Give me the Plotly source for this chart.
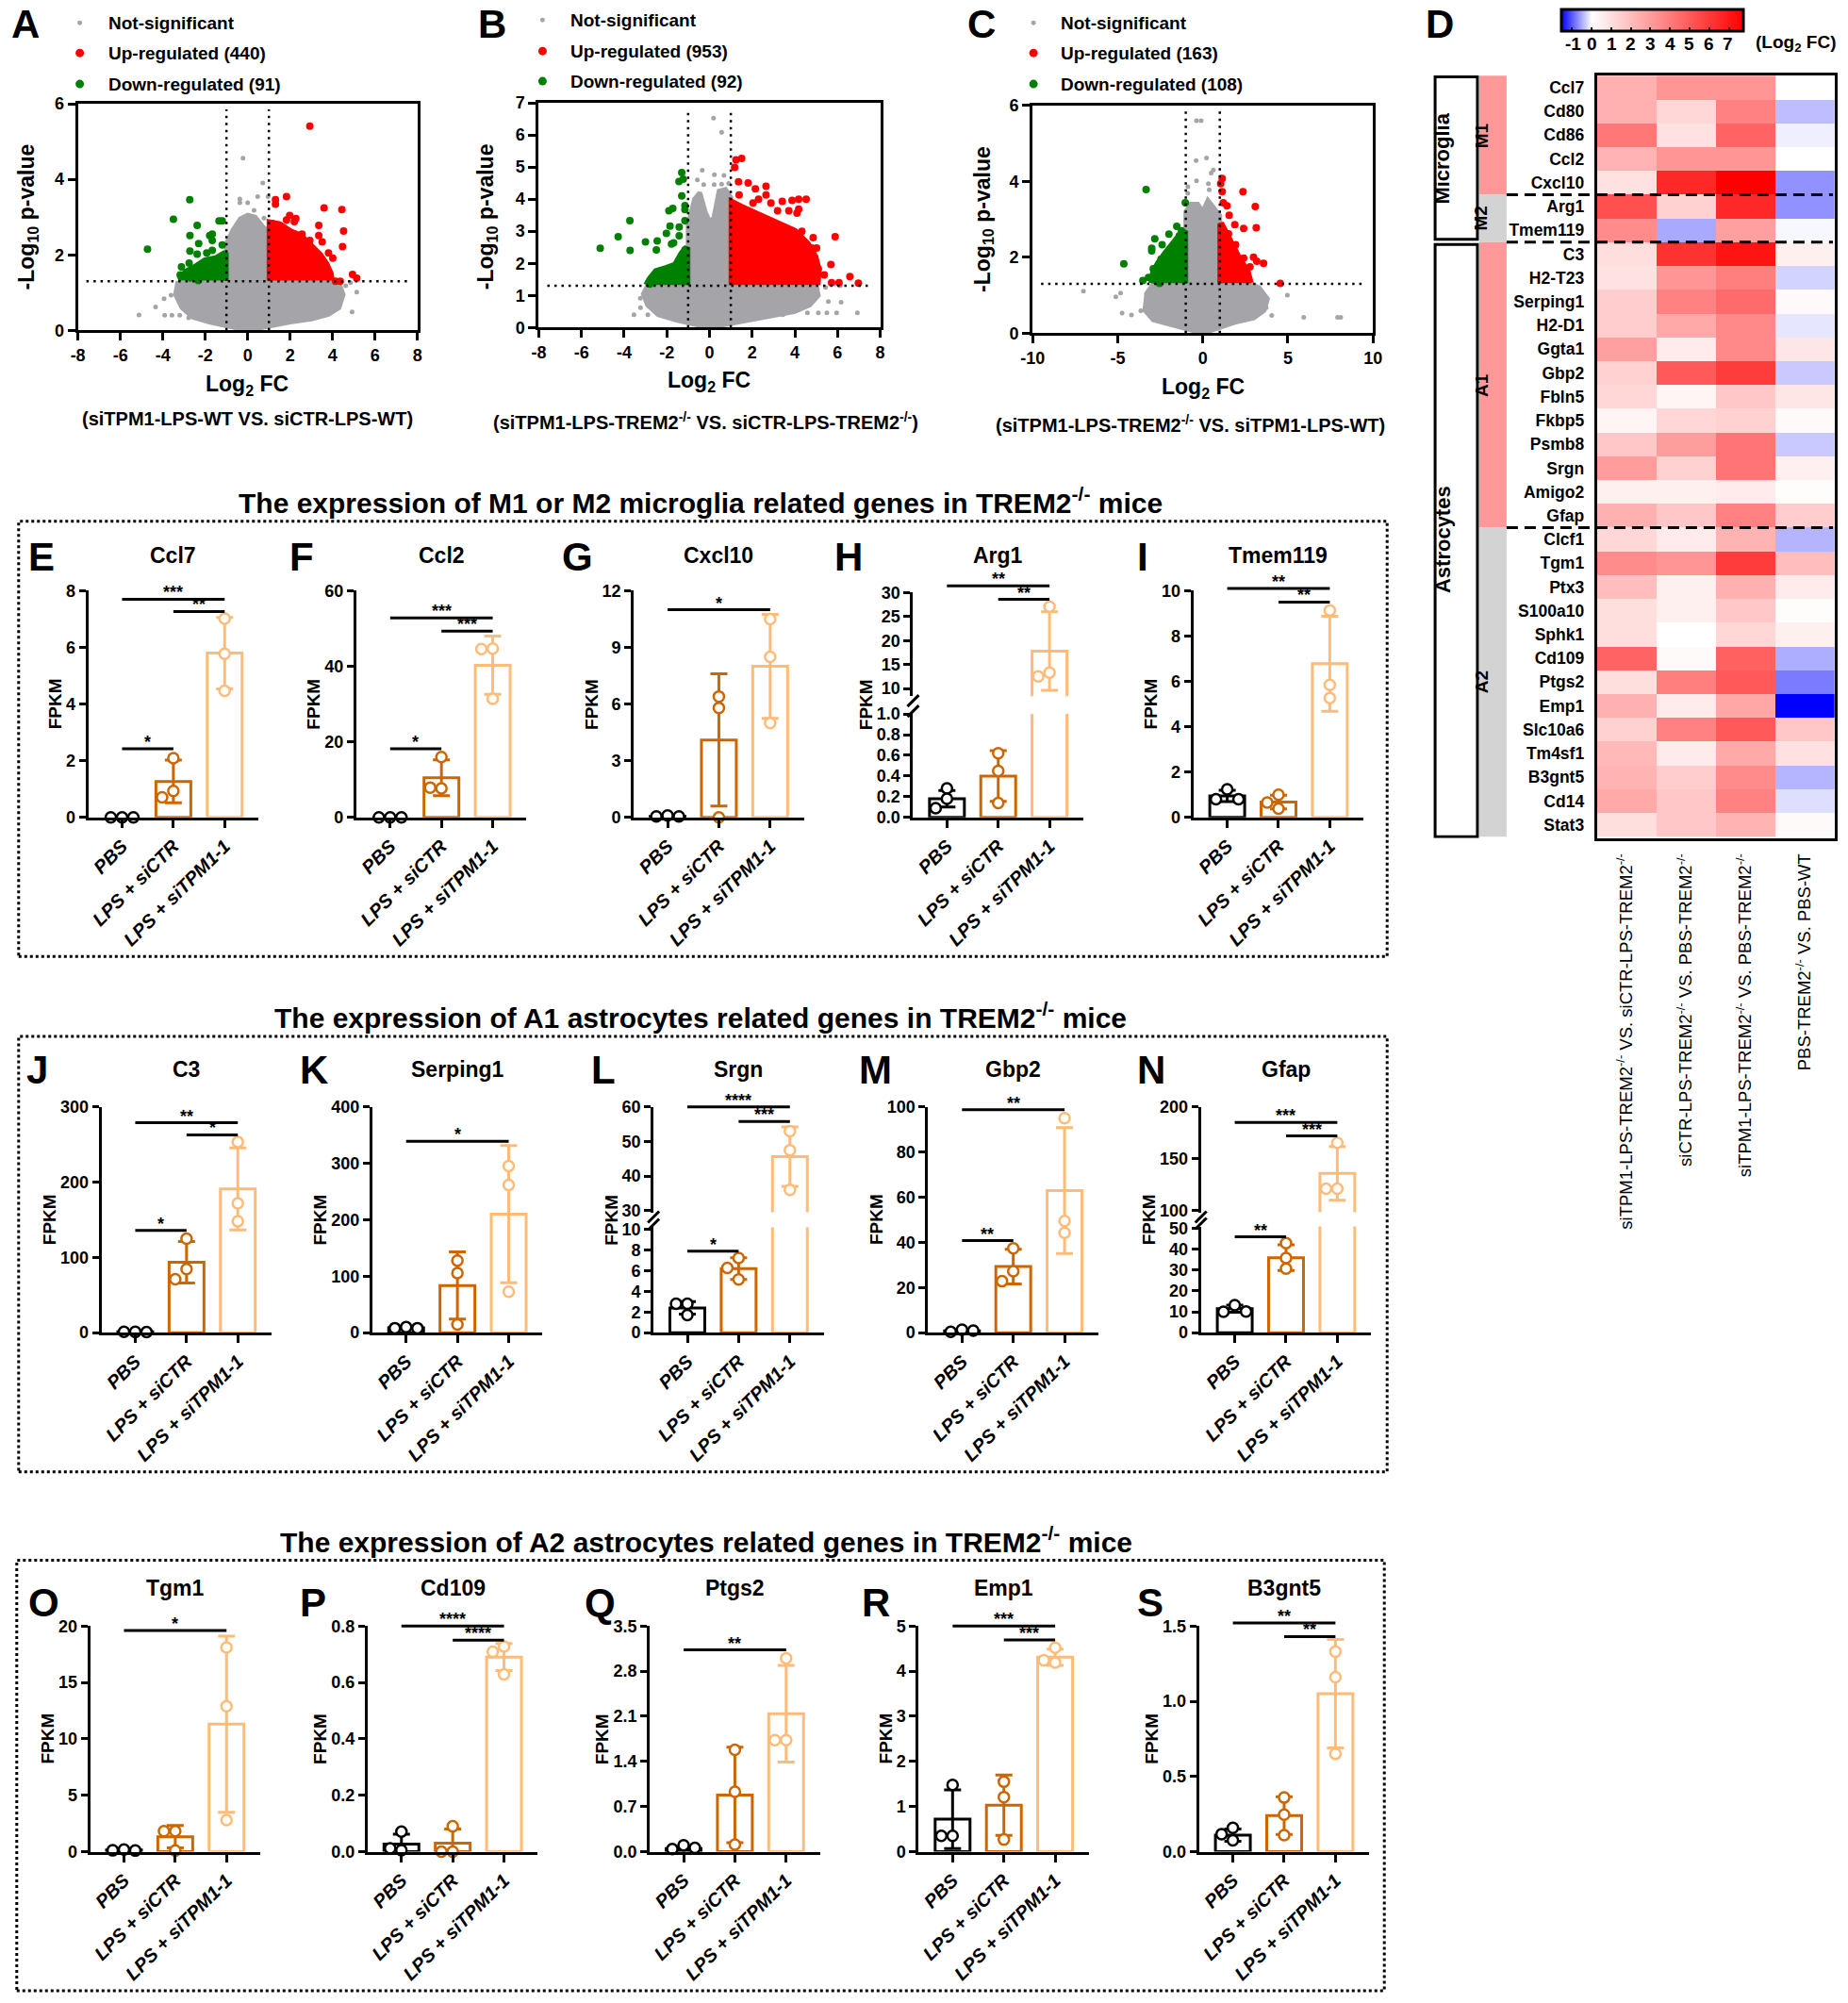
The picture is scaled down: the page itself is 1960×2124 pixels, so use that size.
import plotly.graph_objects as go

W, H = 1960, 2124
# The captured page comes out slightly inset/scaled; positions are laid out in
# reference pixels and mapped through this small correction.
AX, KX = 10.2, 0.9907
AY, KY = 7.7, 0.9935
FONT = "Liberation Sans, Arial, Helvetica, sans-serif"

# ======================= DATA =======================
FC_CUT = 1.0
P_CUT = 1.3

# ---- Volcano A ----
A_ns_area = [(0, 0), (1, 0.12), (2, 0.22), (3, 0.3), (3.8, 0.42), (4.3, 0.6), (4.5, 0.95), (4.3, 1.25), (1, 1.3),
             (1, 2.6), (0.7, 2.75), (0.35, 3.0), (0, 3.05), (-0.35, 2.95), (-0.7, 2.65), (-1, 2.3), (-1, 1.3),
             (-3.3, 1.25), (-3.4, 0.95), (-3.1, 0.6), (-2.6, 0.35), (-1.8, 0.22), (-0.9, 0.12), (0, 0)]
A_ns_pts = [(-5.12, 0.41), (-4.34, 0.62), (-3.94, 0.84), (-3.91, 0.40), (-3.57, 0.40), (-3.2, 0.40), (-3.61, 0.93),
            (-2.78, 0.33), (4.92, 0.49), (5.14, 1.01), (4.85, 1.26), (4.33, 0.88), (4.62, 1.18), (3.89, 0.68),
            (-0.22, 4.56), (0.71, 3.9), (0.47, 3.54), (-0.37, 3.48), (-0.37, 3.38), (0.0, 3.38), (0.96, 3.54),
            (0.77, 2.97), (0.3, 3.18), (-0.22, 2.88), (-0.59, 2.59), (-0.9, 2.38)]
A_up_area = [(1.05, 1.32), (1.05, 2.85), (1.5, 2.8), (2.0, 2.62), (2.5, 2.5), (3.0, 2.25), (3.4, 2.0), (3.7, 1.75),
             (3.9, 1.5), (3.95, 1.32)]
A_up_pts = [(2.93, 5.41), (1.31, 3.46), (1.31, 3.34), (1.83, 3.54), (1.98, 3.04), (1.83, 2.92), (2.27, 2.96),
            (3.6, 3.24), (4.44, 3.2), (3.35, 2.78), (3.35, 2.51), (4.52, 2.63), (4.47, 2.22), (3.51, 2.34),
            (4.01, 1.91), (3.54, 1.66), (3.69, 1.47), (4.94, 1.48), (5.14, 1.38), (4.36, 1.3), (4.14, 1.3),
            (2.93, 2.38), (2.56, 2.55), (3.81, 2.05), (3.3, 1.85), (2.2, 2.88), (1.38, 2.71), (1.16, 2.83)]
A_dn_area = [(-1.05, 1.32), (-1.05, 2.05), (-1.5, 1.9), (-2.0, 1.85), (-2.4, 1.7), (-2.9, 1.55), (-3.15, 1.4),
             (-3.1, 1.32)]
A_dn_pts = [(-4.72, 2.15), (-3.5, 2.94), (-2.73, 3.46), (-2.38, 2.78), (-2.72, 2.51), (-2.31, 2.3), (-2.72, 2.1),
            (-2.38, 2.02), (-2.76, 1.78), (-1.79, 2.51), (-1.67, 2.55), (-1.67, 2.38), (-1.35, 2.9), (-1.2, 2.9),
            (-1.2, 2.26), (-1.67, 2.12), (-3.12, 1.68), (-3.18, 1.47), (-2.7, 1.39), (-2.33, 1.32), (-1.93, 2.05)]
A_labels = ["Not-significant", "Up-regulated (440)", "Down-regulated (91)"]
A_comparison = "(siTPM1-LPS-WT VS. siCTR-LPS-WT)"

# ---- Volcano B ----
B_ns_area = [(0, 0), (1, 0.12), (2, 0.25), (3, 0.35), (4, 0.5), (4.7, 0.7), (5.1, 1.0), (5.0, 1.3), (1, 1.3),
             (1, 4.05), (0.75, 4.3), (0.45, 4.25), (0.2, 3.4), (0, 3.3), (-0.2, 3.6), (-0.45, 4.2), (-0.7, 4.0),
             (-1, 3.2), (-1, 1.3), (-2.9, 1.3), (-3.1, 1.05), (-2.9, 0.7), (-2.4, 0.4), (-1.5, 0.22), (-0.7, 0.1),
             (0, 0)]
B_ns_pts = [(0.19, 6.52), (0.57, 6.08), (-0.34, 4.9), (-0.57, 4.6), (0.23, 4.76), (0.68, 4.74), (0.9, 4.49),
            (0.22, 4.45), (0.57, 4.47), (-0.27, 4.45), (-3.24, 0.91), (-3.23, 0.62), (-3.54, 0.4), (-2.89, 0.4),
            (-2.89, 0.72), (5.57, 0.81), (6.17, 0.79), (6.93, 0.46), (5.96, 0.46), (5.5, 0.46), (5.1, 0.46),
            (4.59, 0.46), (4.67, 0.81), (5.05, 1.2), (5.44, 1.25), (6.12, 1.3), (4.28, 1.15), (3.44, 0.4)]
B_up_area = [(1.05, 1.32), (1.05, 3.9), (1.5, 3.75), (2.0, 3.6), (2.6, 3.45), (3.2, 3.25), (4.0, 3.0), (4.6, 2.6),
             (4.95, 2.2), (5.1, 1.8), (5.05, 1.32)]
B_up_pts = [(1.24, 5.22), (1.51, 5.27), (1.18, 4.99), (1.36, 4.54), (1.81, 4.5), (2.15, 4.32), (2.65, 4.4),
            (2.65, 4.13), (2.3, 4.0), (3.41, 3.93), (3.87, 3.96), (4.18, 4.0), (4.53, 4.0), (4.18, 3.69),
            (3.72, 3.64), (4.1, 3.56), (3.19, 3.64), (2.88, 3.88), (2.04, 3.88), (1.39, 4.13), (4.33, 3.0),
            (4.86, 2.8), (4.79, 2.48), (5.02, 2.48), (5.89, 2.83), (5.69, 1.96), (5.38, 1.64), (6.58, 1.59),
            (5.72, 1.4), (6.07, 1.4), (6.98, 1.38), (4.94, 1.53), (5.1, 1.83), (4.71, 2.2), (4.48, 2.6)]
B_dn_area = [(-1.05, 1.32), (-1.05, 2.5), (-1.3, 2.3), (-1.6, 1.95), (-2.0, 1.85), (-2.5, 1.75), (-2.8, 1.5),
             (-2.95, 1.32)]
B_dn_pts = [(-5.12, 2.47), (-4.28, 2.83), (-3.73, 3.33), (-3.72, 2.4), (-3.0, 2.67), (-2.45, 2.7), (-2.49, 2.42),
            (-2.02, 2.93), (-1.9, 3.64), (-1.72, 3.71), (-1.85, 3.16), (-1.78, 2.6), (-1.42, 3.13), (-1.3, 4.83),
            (-1.43, 4.55), (-1.23, 4.62), (-1.3, 4.1), (-1.15, 3.8), (-1.15, 3.67), (-1.15, 3.33), (-1.42, 2.86),
            (-1.68, 2.64), (-1.15, 2.42), (-2.8, 1.35), (-1.6, 1.83)]
B_labels = ["Not-significant", "Up-regulated (953)", "Down-regulated (92)"]
B_comparison = "(siTPM1-LPS-TREM2<sup>-/-</sup> VS. siCTR-LPS-TREM2<sup>-/-</sup>)"

# ---- Volcano C ----
C_ns_area = [(0, 0), (1, 0.15), (2, 0.3), (3, 0.4), (3.6, 0.6), (3.8, 0.9), (3.3, 1.2), (2.8, 1.3), (1, 1.3),
             (1, 3.1), (0.6, 3.35), (0.3, 3.5), (0, 3.2), (-0.3, 3.4), (-0.7, 3.4), (-1, 3.2), (-1, 1.3),
             (-2.9, 1.3), (-3.3, 1.05), (-3.4, 0.6), (-2.9, 0.35), (-2, 0.25), (-1, 0.12), (0, 0)]
C_ns_pts = [(-0.37, 5.6), (-0.1, 5.6), (0.22, 4.62), (-0.39, 4.55), (0.49, 4.22), (0.62, 4.3), (-0.37, 4.02),
            (-0.88, 3.86), (-0.88, 3.69), (0.33, 3.94), (0.38, 3.78), (-7.01, 1.11), (-5.11, 0.96), (-4.83, 1.06),
            (-4.74, 0.53), (-4.19, 0.48), (-3.64, 0.59), (4.97, 1.0), (5.93, 0.42), (7.92, 0.42), (8.1, 0.42),
            (4.05, 0.47), (3.63, 0.92), (3.72, 0.67), (2.98, 1.17), (3.44, 1.05)]
C_up_area = [(1.05, 1.32), (1.05, 2.9), (1.4, 2.6), (1.8, 2.2), (2.2, 1.9), (2.6, 1.65), (2.8, 1.32)]
C_up_pts = [(1.14, 4.08), (1.05, 3.94), (1.14, 3.73), (2.36, 3.73), (1.2, 3.44), (1.42, 3.36), (1.55, 3.11),
            (3.08, 3.34), (3.14, 2.78), (1.88, 2.86), (2.4, 2.76), (1.93, 2.33), (1.51, 2.62), (2.98, 2.0),
            (3.17, 1.9), (3.57, 1.84), (2.4, 1.98), (2.77, 1.75), (4.55, 1.31), (2.62, 1.53), (2.16, 1.65)]
C_dn_area = [(-1.05, 1.32), (-1.05, 2.7), (-1.4, 2.55), (-1.8, 2.35), (-2.2, 2.1), (-2.6, 1.85), (-2.9, 1.6),
             (-3.0, 1.32)]
C_dn_pts = [(-3.33, 3.79), (-1.03, 3.44), (-4.64, 1.83), (-2.82, 2.49), (-3.0, 2.24), (-3.0, 2.17), (-2.39, 2.33),
            (-2.45, 1.95), (-2.91, 1.7), (-3.19, 1.47), (-3.52, 1.39), (-2.54, 1.31), (-1.99, 2.61), (-1.53, 2.82),
            (-1.38, 2.57), (-1.25, 2.7), (-1.8, 2.03), (-2.36, 1.72)]
C_labels = ["Not-significant", "Up-regulated (163)", "Down-regulated (108)"]
C_comparison = "(siTPM1-LPS-TREM2<sup>-/-</sup> VS. siTPM1-LPS-WT)"

# ---- Heatmap D ----
heat_genes = ["Ccl7", "Cd80", "Cd86", "Ccl2", "Cxcl10", "Arg1", "Tmem119", "C3", "H2-T23", "Serping1", "H2-D1",
              "Ggta1", "Gbp2", "Fbln5", "Fkbp5", "Psmb8", "Srgn", "Amigo2", "Gfap", "Clcf1", "Tgm1", "Ptx3",
              "S100a10", "Sphk1", "Cd109", "Ptgs2", "Emp1", "Slc10a6", "Tm4sf1", "B3gnt5", "Cd14", "Stat3"]
heat_columns = ["siTPM1-LPS-TREM2<sup>-/-</sup> VS. siCTR-LPS-TREM2<sup>-/-</sup>",
                "siCTR-LPS-TREM2<sup>-/-</sup> VS. PBS-TREM2<sup>-/-</sup>",
                "siTPM1-LPS-TREM2<sup>-/-</sup> VS. PBS-TREM2<sup>-/-</sup>",
                "PBS-TREM2<sup>-/-</sup> VS. PBS-WT"]
fc_col1 = [2.4, 2.4, 4.1, 2.3, 0.9, 5.3, 3.5, 1.0, 0.9, 1.5, 1.5, 2.9, 1.4, 1.2, 0.3, 1.7, 3.0, 0.45, 2.4,
           1.2, 3.5, 2.0, 1.0, 1.0, 4.7, 1.0, 2.4, 1.4, 2.1, 2.3, 2.6, 1.0]
fc_col2 = [3.2, 1.2, 0.9, 3.2, 6.5, 1.4, -0.52, 6.2, 3.2, 3.8, 2.6, 0.6, 5.0, 0.3, 1.2, 3.0, 1.4, 0.45, 1.7,
           0.6, 3.2, 0.45, 0.45, 0.0, 0.15, 3.9, 0.6, 3.8, 0.6, 1.5, 1.7, 1.7]
fc_col3 = [3.2, 3.8, 4.7, 3.2, 7.7, 6.5, 2.9, 7.1, 3.9, 4.5, 3.6, 3.6, 5.9, 1.7, 1.4, 4.2, 4.2, 0.6, 3.8,
           2.3, 5.9, 2.4, 1.7, 1.2, 4.8, 5.0, 2.7, 5.0, 2.6, 3.5, 3.8, 2.3]
fc_col4 = [0.0, -0.4, -0.1, 0.0, -0.67, -0.67, -0.05, 0.45, -0.27, 0.15, -0.15, 0.75, -0.33, 0.75, 0.15, -0.33,
           0.45, 0.1, 1.5, -0.45, 2.0, 0.6, 0.1, 0.45, -0.49, -0.8, -1.55, 1.7, 0.9, -0.45, -0.2, 0.15]
cell_types = ["Microglia", "Astrocytes"]
cell_type_sizes = [7, 25]
subtypes = ["M1", "M2", "A1", "A2"]
subtype_sizes = [5, 2, 12, 13]
cbar_ticks = [-1, 0, 1, 2, 3, 4, 5, 6, 7]
FC_MIN, FC_MAX = -1.55, 7.7

# ---- Bar charts ----
GROUPS = ["PBS", "LPS + siCTR", "LPS + siTPM1-1"]

ccl7_mean = [0.0, 1.27, 5.8]
ccl7_sd = [0.0, 0.75, 1.26]
ccl7_pts = [[0.0, 0.0, 0.0], [2.09, 0.93, 0.71], [7.02, 5.78, 4.47]]
ccl7_sig = [(0, 2, 7.7, "***"), (1, 2, 7.27, "**"), (0, 1, 2.42, "*")]

ccl2_mean = [0.0, 10.5, 40.3]
ccl2_sd = [0.0, 4.75, 7.7]
ccl2_pts = [[0.0, 0.0, 0.0], [16.0, 7.7, 7.9], [44.7, 44.6, 31.4]]
ccl2_sig = [(0, 2, 52.8, "***"), (1, 2, 49.3, "***"), (0, 1, 18.2, "*")]

cxcl10_mean = [0.05, 4.1, 8.0]
cxcl10_sd = [0.02, 3.5, 2.75]
cxcl10_pts = [[0.1, 0.05, 0.05], [6.4, 5.8, 0.0], [10.5, 8.5, 5.0]]
cxcl10_sig = [(0, 2, 11.0, "*")]

arg1_mean = [0.18, 0.40, 17.8]
arg1_sd = [0.08, 0.245, 8.2]
arg1_pts = [[0.28, 0.18, 0.09], [0.62, 0.45, 0.14], [27.1, 13.3, 12.5]]
arg1_sig = [(0, 2, 31.4, "**"), (1, 2, 28.6, "**")]

tmem119_mean = [0.95, 0.68, 6.78]
tmem119_sd = [0.25, 0.3, 2.1]
tmem119_pts = [[1.24, 0.8, 0.8], [1.0, 0.39, 0.66], [9.14, 5.85, 5.27]]
tmem119_sig = [(0, 2, 10.1, "**"), (1, 2, 9.5, "**")]

c3_mean = [1.0, 93.5, 191.0]
c3_sd = [0.2, 27.6, 54.5]
c3_pts = [[1.0, 1.2, 0.9], [125.0, 84.6, 71.0], [253.6, 172.0, 148.0]]
c3_sig = [(0, 2, 279, "**"), (1, 2, 263, "*"), (0, 1, 136, "*")]

serping1_mean = [8.5, 83.5, 210.0]
serping1_sd = [1.5, 59.5, 121.5]
serping1_pts = [[10.0, 8.0, 8.0], [127.8, 105.7, 14.4], [295.4, 261.7, 72.5]]
serping1_sig = [(0, 2, 339, "*")]

srgn_mean = [2.4, 6.2, 45.6]
srgn_sd = [0.6, 1.05, 8.6]
srgn_pts = [[2.8, 2.8, 1.7], [7.23, 6.28, 5.15], [53.0, 47.5, 36.0]]
srgn_sig = [(0, 2, 60.0, "****"), (1, 2, 55.8, "***"), (0, 1, 7.9, "*")]

gbp2_mean = [0.8, 29.3, 63.0]
gbp2_sd = [0.4, 7.7, 27.9]
gbp2_pts = [[1.3, 0.4, 0.9], [37.4, 27.2, 22.8], [95.0, 49.5, 44.3]]
gbp2_sig = [(0, 2, 98.8, "**"), (0, 1, 40.8, "**")]

gfap_mean = [11.5, 36.0, 135.7]
gfap_sd = [1.7, 6.2, 26.0]
gfap_pts = [[13.2, 10.0, 10.2], [43.0, 35.8, 30.7], [165.4, 120.8, 120.8]]
gfap_sig = [(0, 2, 185, "***"), (1, 2, 172, "***"), (0, 1, 46, "**")]

tgm1_mean = [0.15, 1.33, 11.3]
tgm1_sd = [0.05, 1.0, 7.8]
tgm1_pts = [[0.2, 0.12, 0.1], [1.83, 1.83, 0.1], [18.1, 12.9, 2.8]]
tgm1_sig = [(0, 2, 19.6, "*")]

cd109_mean = [0.027, 0.03, 0.69]
cd109_sd = [0.035, 0.05, 0.048]
cd109_pts = [[0.071, 0.005, 0.012], [0.09, 0.0, 0.0], [0.727, 0.709, 0.629]]
cd109_sig = [(0, 2, 0.80, "****"), (1, 2, 0.75, "****")]

ptgs2_mean = [0.05, 0.88, 2.14]
ptgs2_sd = [0.02, 0.74, 0.75]
ptgs2_pts = [[0.1, 0.04, 0.06], [1.58, 0.93, 0.11], [3.0, 1.73, 1.73]]
ptgs2_sig = [(0, 2, 3.13, "**")]

emp1_mean = [0.72, 1.03, 4.31]
emp1_sd = [0.65, 0.67, 0.18]
emp1_pts = [[1.48, 0.35, 0.35], [1.55, 1.21, 0.27], [4.52, 4.19, 4.24]]
emp1_sig = [(0, 2, 5.0, "***"), (1, 2, 4.69, "***")]

b3gnt5_mean = [0.11, 0.24, 1.05]
b3gnt5_sd = [0.04, 0.125, 0.36]
b3gnt5_pts = [[0.158, 0.075, 0.117], [0.36, 0.246, 0.11], [1.33, 1.16, 0.65]]
b3gnt5_sig = [(0, 2, 1.52, "**"), (1, 2, 1.43, "**")]

section_titles = ["The expression of M1 or M2 microglia related genes in TREM2<sup>-/-</sup> mice",
                  "The expression of A1 astrocytes related genes in TREM2<sup>-/-</sup> mice",
                  "The expression of A2 astrocytes related genes in TREM2<sup>-/-</sup> mice"]

# ======================= STYLE / HELPERS =======================
NS_GREY = "#A4A4A9"
UP_RED = "#FF0000"
DN_GREEN = "#008000"
GROUP_COLORS = ["#000000", "#CC6600", "#FFBC78"]
PINK = "#FF9999"
LGREY = "#D3D3D3"


def fx(p):
    return (p - AX) / KX / W


def fy(p):
    return 1 - (p - AY) / KY / H


def fnt(size, weight="bold", style="normal", color="black"):
    return dict(family=FONT, size=size, weight=weight, style=style, color=color)


traces = []
annotations = []
shapes = []
layout = dict(width=W, height=H, margin=dict(l=0, r=0, t=0, b=0, pad=0), paper_bgcolor="white",
              plot_bgcolor="rgba(0,0,0,0)", showlegend=False, barmode="overlay", hovermode=False,
              font=dict(family=FONT, color="black"))
counter = {"x": 0, "y": 0}


def new_axis(kind):
    counter[kind] += 1
    n = counter[kind]
    suf = "" if n == 1 else str(n)
    return f"{kind}axis{suf}", f"{kind}{suf}"


def ann(text, x, y, size, xanchor="center", yanchor="middle", angle=0, weight="bold", yshift=0):
    annotations.append(dict(text=text, x=fx(x), y=fy(y), xref="paper", yref="paper", showarrow=False,
                            xanchor=xanchor, yanchor=yanchor, textangle=angle, yshift=yshift,
                            font=fnt(size, weight)))


def line_px(x0, y0, x1, y1, width=3, dash=None, color="black"):
    ln = dict(color=color, width=width)
    if dash:
        ln["dash"] = dash
    shapes.append(dict(type="line", xref="paper", yref="paper", x0=fx(x0), y0=fy(y0), x1=fx(x1), y1=fy(y1),
                       line=ln))


# ======================= VOLCANO PLOTS =======================
VOLC_AX = dict(showline=True, linewidth=3, linecolor="black", mirror=True, ticks="outside", ticklen=8,
               tickwidth=3, tickcolor="black", showgrid=False, zeroline=False, tickfont=fnt(18))


def add_volcano(box, xr, xticks, yr, yticks, ns_area, ns_pts, up_area, up_pts, dn_area, dn_pts):
    x0, y0, x1, y1 = box
    xn, xref = new_axis("x")
    yn, yref = new_axis("y")
    layout[xn] = dict(domain=[fx(x0), fx(x1)], range=xr, anchor=yref, tickvals=xticks,
                      ticktext=[str(t) for t in xticks], **VOLC_AX)
    layout[yn] = dict(domain=[fy(y1), fy(y0)], range=yr, anchor=xref, tickvals=yticks,
                      ticktext=[str(t) for t in yticks], **VOLC_AX)

    def poly(pts, col, lw):
        traces.append(go.Scatter(x=[p[0] for p in pts], y=[p[1] for p in pts], mode="lines", fill="toself",
                                 fillcolor=col, line=dict(color=col, width=lw), xaxis=xref, yaxis=yref))

    def dots(pts, col, size):
        traces.append(go.Scatter(x=[p[0] for p in pts], y=[p[1] for p in pts], mode="markers",
                                 marker=dict(color=col, size=size, line=dict(width=0)), xaxis=xref, yaxis=yref))

    poly(ns_area, NS_GREY, 5)
    dots(ns_pts, NS_GREY, 5)
    poly(up_area, UP_RED, 7)
    dots(up_pts, UP_RED, 8)
    poly(dn_area, DN_GREEN, 7)
    dots(dn_pts, DN_GREEN, 8)
    span = 0.95 * xr[1]
    dl = dict(color="black", width=2.5, dash="2.5px,5px")
    traces.append(go.Scatter(x=[-span, span], y=[P_CUT, P_CUT], mode="lines", line=dl, xaxis=xref, yaxis=yref))
    for s in (-FC_CUT, FC_CUT):
        traces.append(go.Scatter(x=[s, s], y=[0, yr[1] * 0.975], mode="lines", line=dl, xaxis=xref, yaxis=yref))


def volcano_legend(dot_x, text_x, rows, labels):
    sizes = [5, 9, 9]
    cols = [NS_GREY, UP_RED, DN_GREEN]
    for ry, lab, sz, col in zip(rows, labels, sizes, cols):
        shapes.append(dict(type="circle", xref="paper", yref="paper", x0=fx(dot_x - sz / 2), x1=fx(dot_x + sz / 2),
                           y0=fy(ry + sz / 2), y1=fy(ry - sz / 2), fillcolor=col, line=dict(width=0)))
        ann(lab, text_x, ry, 19, xanchor="left")


add_volcano((80, 108, 441, 349), [-8, 8], [-8, -6, -4, -2, 0, 2, 4, 6, 8], [0, 6], [0, 2, 4, 6],
            A_ns_area, A_ns_pts, A_up_area, A_up_pts, A_dn_area, A_dn_pts)
add_volcano((570, 107, 933, 346), [-8, 8], [-8, -6, -4, -2, 0, 2, 4, 6, 8], [0, 7], [0, 1, 2, 3, 4, 5, 6, 7],
            B_ns_area, B_ns_pts, B_up_area, B_up_pts, B_dn_area, B_dn_pts)
add_volcano((1095, 110, 1457, 352), [-10, 10], [-10, -5, 0, 5, 10], [0, 6], [0, 2, 4, 6],
            C_ns_area, C_ns_pts, C_up_area, C_up_pts, C_dn_area, C_dn_pts)

volcano_legend(82, 110, [22, 54, 87], A_labels)
volcano_legend(574, 602, [19, 52, 84], B_labels)
volcano_legend(1096, 1123, [22, 54, 87], C_labels)

ann("A", 24, 23, 42)
ann("B", 520, 23, 42)
ann("C", 1041, 23, 42)
ann("D", 1528, 23, 42)

ann("-Log<sub>10</sub> p-value", 27, 228, 23, angle=-90)
ann("-Log<sub>10</sub> p-value", 515, 228, 23, angle=-90)
ann("-Log<sub>10</sub> p-value", 1043, 231, 23, angle=-90)
ann("Log<sub>2</sub> FC", 260, 407, 23)
ann("Log<sub>2</sub> FC", 751, 403, 23)
ann("Log<sub>2</sub> FC", 1276, 410, 23)
ann(A_comparison, 260, 443, 20)
ann(B_comparison, 748, 445, 20)
ann(C_comparison, 1263, 448, 20)

# ======================= HEATMAP =======================
hxn, hx = new_axis("x")
hyn, hy = new_axis("y")
heat_z = [list(r) for r in zip(fc_col1, fc_col2, fc_col3, fc_col4)]
f0 = (0 - FC_MIN) / (FC_MAX - FC_MIN)
CB_LEFT, CB_LEN, CB_TOP, CB_BOT = 1658, 191, 8.2, 31
traces.append(go.Heatmap(
    z=heat_z, x=heat_columns, y=heat_genes, xaxis=hx, yaxis=hy, zmin=FC_MIN, zmax=FC_MAX,
    colorscale=[[0, "rgb(0,0,255)"], [f0, "rgb(255,255,255)"], [1, "rgb(255,0,0)"]],
    colorbar=dict(orientation="h", x=fx(CB_LEFT + CB_LEN / 2), xanchor="center", y=fy(CB_TOP), yanchor="top",
                  len=CB_LEN / KX, lenmode="pixels", thickness=(CB_BOT - CB_TOP) / KY, thicknessmode="pixels",
                  outlinewidth=3, outlinecolor="black", xpad=0, ypad=0,
                  tickvals=cbar_ticks, showticklabels=False,
                  ticks="inside", ticklen=5, tickwidth=2, tickcolor="black"),
))
for t in cbar_ticks:
    ann(str(t), CB_LEFT + (t - FC_MIN) / (FC_MAX - FC_MIN) * CB_LEN, 44, 19)
layout[hxn] = dict(domain=[fx(1695), fx(1948)], anchor=hy, tickangle=-90, tickfont=fnt(18.5, "normal"),
                   showline=True, mirror=True, linewidth=3, linecolor="black", ticks="", showgrid=False,
                   zeroline=False, ticklabelstandoff=6)
layout[hyn] = dict(domain=[fy(889), fy(78)], anchor=hx, autorange="reversed", tickfont=fnt(17.5),
                   showline=True, mirror=True, linewidth=3, linecolor="black", ticks="", showgrid=False,
                   zeroline=False, ticklabelstandoff=7)
ann("(Log<sub>2</sub> FC)", 1862, 44, 19, xanchor="left")

# subtype strips + dashed separators
start = -0.5
for name, n in zip(subtypes, subtype_sizes):
    end = start + n
    col = PINK if name.endswith("1") else LGREY
    shapes.append(dict(type="rect", xref="paper", yref=hy, x0=fx(1570), x1=fx(1599), y0=start, y1=end,
                       fillcolor=col, line=dict(width=0), layer="below"))
    annotations.append(dict(text=name, x=fx(1584.5), y=(start + end) / 2, xref="paper", yref=hy, showarrow=False,
                            textangle=-90, font=fnt(19)))
    if end < len(heat_genes) - 0.6:
        shapes.append(dict(type="line", xref="paper", yref=hy, x0=fx(1599), x1=fx(1946), y0=end, y1=end,
                           line=dict(color="black", width=3, dash="12px,7px")))
    start = end

start = -0.5
for k, (name, n) in enumerate(zip(cell_types, cell_type_sizes)):
    end = start + n
    shapes.append(dict(type="rect", xref="paper", yref=hy, x0=fx(1523), x1=fx(1568),
                       y0=start + (0.05 if k == 0 else 0.1), y1=end - (0.12 if k == 0 else 0.0),
                       line=dict(color="black", width=3), fillcolor="rgba(0,0,0,0)"))
    annotations.append(dict(text=name, x=fx(1545.5), y=(start + end) / 2, xref="paper", yref=hy, showarrow=False,
                            textangle=-90, font=fnt(22)))
    start = end

# ======================= BAR PANELS =======================
BAR_Y = dict(showline=True, linewidth=3, linecolor="black", ticks="outside", ticklen=7, tickwidth=3,
             tickcolor="black", showgrid=False, zeroline=False, tickfont=fnt(18))
BAR_X = dict(showline=True, linewidth=3, linecolor="black", ticks="outside", ticklen=8, tickwidth=3,
             tickcolor="black", showgrid=False, zeroline=False, tickangle=-45,
             tickfont=fnt(20, style="italic"))
X_RANGE = [-0.66, 2.66]
PANEL_W = 181


def seg_index(segs, v):
    idx = 0
    for k in range(1, len(segs)):
        if v > segs[k - 1][1]:
            idx = k
    return idx


def val_px(segs, v):
    k = seg_index(segs, v)
    lo, hi, ptop, pbot = segs[k][:4]
    return pbot - (v - lo) / (hi - lo) * (pbot - ptop)


def cat_px(ya, xv):
    return ya + (xv - X_RANGE[0]) / (X_RANGE[1] - X_RANGE[0]) * PANEL_W


def spread(vals, segs, step=0.22, min_px=11.0, unit_px=54.5):
    placed, offs = [], []
    for v in vals:
        ypx = val_px(segs, v)
        chosen = 0.0
        for off in (0.0, -step, step, -2 * step, 2 * step):
            if all(abs(ypx - pyy) >= min_px or abs(off - ox) * unit_px >= min_px for ox, pyy in placed):
                chosen = off
                break
        placed.append((chosen, ypx))
        offs.append(chosen)
    return offs


def add_bar_panel(letter, letter_x, ya, title_y, letter_y, gene, mean, sd, pts, sig, segs):
    xn, xref = new_axis("x")
    yrefs = []
    labels_all = []
    for (lo, hi, ptop, pbot, ticks, fmt) in segs:
        yn, yref = new_axis("y")
        tt = [format(t, fmt) for t in ticks]
        labels_all += tt
        layout[yn] = dict(domain=[fy(pbot), fy(ptop)], range=[lo, hi], anchor=xref, tickvals=ticks,
                          ticktext=tt, **BAR_Y)
        yrefs.append(yref)
    layout[xn] = dict(domain=[fx(ya), fx(ya + PANEL_W)], range=X_RANGE, anchor=yrefs[0],
                      tickvals=[0, 1, 2], ticktext=GROUPS, **BAR_X)
    for k, yref in enumerate(yrefs):
        for i in range(3):
            c = GROUP_COLORS[i]
            show_err = sd[i] > 0 and seg_index(segs, mean[i]) == k
            traces.append(go.Bar(x=[i], y=[mean[i]], width=0.68, xaxis=xref, yaxis=yref,
                                 marker=dict(color="white", line=dict(color=c, width=3)),
                                 error_y=dict(type="data", array=[sd[i]], visible=show_err, color=c,
                                              thickness=3, width=9)))
    for i in range(3):
        offs = spread(pts[i], segs)
        for v, o in zip(pts[i], offs):
            k = seg_index(segs, v)
            traces.append(go.Scatter(x=[i + o], y=[v], mode="markers", xaxis=xref, yaxis=yrefs[k], cliponaxis=False,
                                     marker=dict(symbol="circle", size=11, color="white",
                                                 line=dict(color=GROUP_COLORS[i], width=2.5))))
    # significance brackets (may sit above the axis top, so drawn in page coordinates)
    for (i, j, v, txt) in sig:
        ypx = val_px(segs, v)
        line_px(cat_px(ya, i), ypx, cat_px(ya, j), ypx, width=3)
        ann(txt, (cat_px(ya, i) + cat_px(ya, j)) / 2, ypx, 18, yanchor="bottom", yshift=-5)
    # axis break marks
    for k in range(len(segs) - 1):
        lower_top = segs[k][2]
        upper_bot = segs[k + 1][3]
        for cy in (upper_bot + 5, lower_top - 3):
            line_px(ya - 6, cy + 6, ya + 6, cy - 6, width=3)
    top = min(s[2] for s in segs)
    bot = max(s[3] for s in segs)
    wlab = max(sum(5 if ch == "." else 10 for ch in t) for t in labels_all)
    ann("FPKM", ya - (7 + 6 + wlab + 12), (top + bot) / 2, 19, angle=-90)
    ann(gene, ya + 36 + 54.5, title_y, 23)
    ann(letter, letter_x, letter_y, 42)


def single(top_val, ticks, fmt, ptop, pbot):
    return [(0, top_val, ptop, pbot, ticks, fmt)]


R1T, R1B = 626, 867
R2T, R2B = 1175, 1415
R3T, R3B = 1727, 1967

add_bar_panel("E", 41, 91, 588, 590, "Ccl7", ccl7_mean, ccl7_sd, ccl7_pts, ccl7_sig,
              single(8, [0, 2, 4, 6, 8], "g", R1T, R1B))
add_bar_panel("F", 318, 376, 588, 590, "Ccl2", ccl2_mean, ccl2_sd, ccl2_pts, ccl2_sig,
              single(60, [0, 20, 40, 60], "g", R1T, R1B))
add_bar_panel("G", 611, 671, 588, 590, "Cxcl10", cxcl10_mean, cxcl10_sd, cxcl10_pts, cxcl10_sig,
              single(12, [0, 3, 6, 9, 12], "g", R1T, R1B))
add_bar_panel("H", 899, 968, 588, 590, "Arg1", arg1_mean, arg1_sd, arg1_pts, arg1_sig,
              [(0, 1.0, 757, 867, [0, 0.2, 0.4, 0.6, 0.8, 1.0], ".1f"),
               (8.4, 30, 628, 738, [10, 15, 20, 25, 30], "g")])
add_bar_panel("I", 1212, 1266, 588, 590, "Tmem119", tmem119_mean, tmem119_sd, tmem119_pts, tmem119_sig,
              single(10, [0, 2, 4, 6, 8, 10], "g", R1T, R1B))

add_bar_panel("J", 37, 105, 1135, 1136, "C3", c3_mean, c3_sd, c3_pts, c3_sig,
              single(300, [0, 100, 200, 300], "g", R2T, R2B))
add_bar_panel("K", 331, 393, 1135, 1136, "Serping1", serping1_mean, serping1_sd, serping1_pts, serping1_sig,
              single(400, [0, 100, 200, 300, 400], "g", R2T, R2B))
add_bar_panel("L", 639, 692, 1135, 1136, "Srgn", srgn_mean, srgn_sd, srgn_pts, srgn_sig,
              [(0, 10.2, 1303, 1415, [0, 2, 4, 6, 8, 10], "g"),
               (29.5, 60, 1175, 1287, [30, 40, 50, 60], "g")])
add_bar_panel("M", 928, 984, 1135, 1136, "Gbp2", gbp2_mean, gbp2_sd, gbp2_pts, gbp2_sig,
              single(100, [0, 20, 40, 60, 80, 100], "g", R2T, R2B))
add_bar_panel("N", 1221, 1274, 1135, 1136, "Gfap", gfap_mean, gfap_sd, gfap_pts, gfap_sig,
              [(0, 51, 1302, 1415, [0, 10, 20, 30, 40, 50], "g"),
               (98, 200, 1175, 1287, [100, 150, 200], "g")])

add_bar_panel("O", 44, 93, 1687, 1702, "Tgm1", tgm1_mean, tgm1_sd, tgm1_pts, tgm1_sig,
              single(20, [0, 5, 10, 15, 20], "g", R3T, R3B))
add_bar_panel("P", 330, 388, 1687, 1702, "Cd109", cd109_mean, cd109_sd, cd109_pts, cd109_sig,
              single(0.8, [0, 0.2, 0.4, 0.6, 0.8], ".1f", R3T, R3B))
add_bar_panel("Q", 635, 688, 1687, 1702, "Ptgs2", ptgs2_mean, ptgs2_sd, ptgs2_pts, ptgs2_sig,
              single(3.5, [0, 0.7, 1.4, 2.1, 2.8, 3.5], ".1f", R3T, R3B))
add_bar_panel("R", 928, 974, 1687, 1702, "Emp1", emp1_mean, emp1_sd, emp1_pts, emp1_sig,
              single(5, [0, 1, 2, 3, 4, 5], "g", R3T, R3B))
add_bar_panel("S", 1220, 1272, 1687, 1702, "B3gnt5", b3gnt5_mean, b3gnt5_sd, b3gnt5_pts, b3gnt5_sig,
              single(1.5, [0, 0.5, 1.0, 1.5], ".1f", R3T, R3B))

# section titles and dotted frames
ann(section_titles[0], 742, 530, 30)
ann(section_titles[1], 742, 1078, 30)
ann(section_titles[2], 748, 1635, 30)
for (x0, y0, x1, y1) in [(17, 552, 1472, 1015), (17, 1100, 1472, 1563), (15, 1657, 1469, 2115)]:
    shapes.append(dict(type="rect", xref="paper", yref="paper", x0=fx(x0), x1=fx(x1), y0=fy(y1), y1=fy(y0),
                       line=dict(color="black", width=3, dash="dot"), fillcolor="rgba(0,0,0,0)"))

layout["annotations"] = annotations
layout["shapes"] = shapes
fig = go.Figure(data=traces, layout=layout)
fig.write_html("out.html", config={"displayModeBar": False},
               post_script="document.body.style.margin='0px';document.body.style.overflow='hidden';")
